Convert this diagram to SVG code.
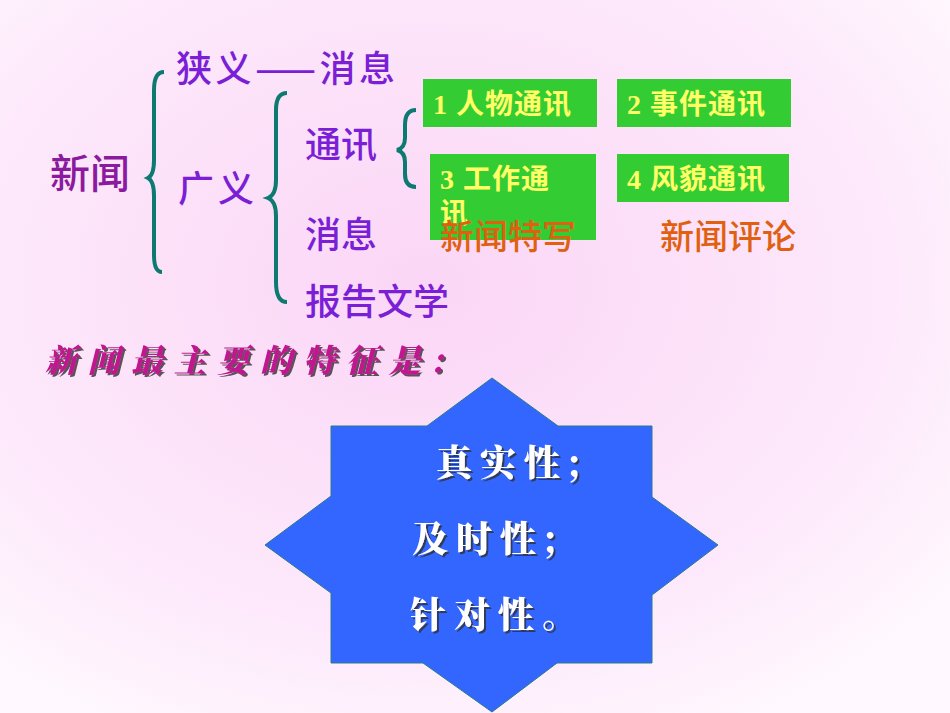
<svg xmlns="http://www.w3.org/2000/svg" width="950" height="713" viewBox="0 0 950 713">
<defs>
<radialGradient id="bg" cx="0.45" cy="0.4" r="0.7">
<stop offset="0" stop-color="#fbd6f6"/><stop offset="0.7" stop-color="#fde9fb"/><stop offset="1" stop-color="#fff8fe"/>
</radialGradient>
<filter id="sh"><feDropShadow dx="2" dy="2" stdDeviation="0.5" flood-color="#333" flood-opacity="0.8"/></filter>
</defs>
<style>
.p{font-family:"Noto Sans CJK SC",sans-serif;font-weight:500;fill:#7a1fd6;font-size:36px}
.g{fill:#33cc33}
.gt{font-family:"Liberation Serif","Noto Sans CJK SC",serif;font-weight:bold;fill:#ffff66;font-size:28px;letter-spacing:1px}
.o{font-family:"Noto Sans CJK SC",sans-serif;font-weight:500;fill:#e0600f;font-size:34px}
.br{fill:none;stroke:#0d7a72;stroke-width:4}
.w{font-family:"Noto Serif CJK SC","Noto Sans CJK SC",serif;font-weight:900;fill:#fff;font-size:36px;letter-spacing:8px;filter:url(#sh)}
</style>
<rect width="950" height="713" fill="url(#bg)"/>
<g id="connectors">
<path class="br" d="M164,72 Q154,72 154,90 V160 Q154,175 148,178 Q154,181 154,196 V255 Q154,272 162,272"/>
<path class="br" d="M287,93 Q276,93 276,110 V180 Q276,195 268,198 Q276,201 276,216 V282 Q276,302 287,302"/>
<path class="br" d="M416,110 Q405,110 405,125 V138 Q405,148 397,150 Q405,152 405,162 V174 Q405,187 416,187"/>
</g>
<g id="xinwen"><text class="p" x="50" y="188" style="fill:#8b1a9e;font-size:40px">新闻</text></g>
<g id="xiayi"><text class="p" x="176" y="82" textLength="219">狭义——消息</text></g>
<g id="guangyi"><text class="p" x="178" y="202" style="letter-spacing:4px">广义</text></g>
<g id="tongxun"><text class="p" x="305" y="158">通讯</text></g>
<g id="xiaoxi"><text class="p" x="305" y="248">消息</text></g>
<g id="baogao"><text class="p" x="305" y="315">报告文学</text></g>
<g id="n1"><rect class="g" x="423" y="79" width="174" height="48"/><text class="gt" x="433" y="114">1 人物通讯</text></g>
<g id="n2"><rect class="g" x="617" y="79" width="174" height="48"/><text class="gt" x="627" y="114">2 事件通讯</text></g>
<g id="n3"><rect class="g" x="430" y="154" width="166" height="86"/><text class="gt" x="440" y="189">3 工作通</text><text class="gt" x="440" y="223">讯</text></g>
<g id="n4"><rect class="g" x="617" y="154" width="172" height="48"/><text class="gt" x="627" y="189">4 风貌通讯</text></g>
<g id="texie"><text class="o" x="440" y="249">新闻特写</text></g>
<g id="pinglun"><text class="o" x="660" y="249">新闻评论</text></g>
<g id="title"><text x="45" y="372" style="font-family:'Noto Serif CJK SC','Noto Sans CJK SC',serif;font-weight:900;font-style:italic;fill:#c01890;font-size:32px;letter-spacing:11px;filter:url(#sh)">新闻最主要的特征是:</text></g>
<g id="star">
<polygon points="492,378 558,426 652,426 652,497 718,545 652,595 652,663 557,663 492,712 423,663 331,663 331,593 265,545 331,496 331,426 427,426" fill="#3366ff" stroke="#2a7a8a" stroke-width="1"/>
<text class="w" x="436" y="476">真实性;</text>
<text class="w" x="412" y="552">及时性;</text>
<text class="w" x="410" y="628">针对性。</text>
</g>
</svg>
